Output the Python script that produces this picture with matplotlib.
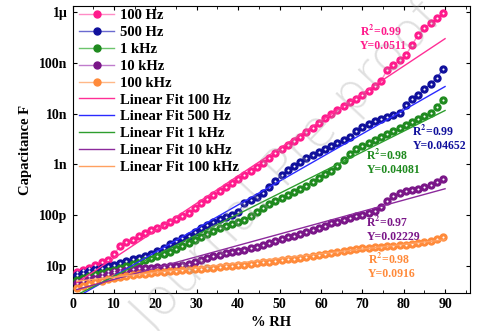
import numpy as np
import matplotlib
matplotlib.use("Agg")
import matplotlib.pyplot as plt
from matplotlib.ticker import FixedLocator, MultipleLocator

plt.rcParams['font.family'] = ['Liberation Serif', 'DejaVu Serif']
plt.rcParams['font.weight'] = 'bold'
plt.rcParams['axes.labelweight'] = 'bold'
plt.rcParams['mathtext.fontset'] = 'stix'

# relative humidity (%) of the measured points
rh = np.arange(1, 91, 1.5)

# log10 of capacitance (F)
logC_100hz = [-11.12, -11.08, -11.04, -10.98, -10.92, -10.88, -10.76, -10.61, -10.53, -10.49,
              -10.41, -10.35, -10.29, -10.25, -10.19, -10.13, -10.08, -10.02, -9.96, -9.86,
              -9.76, -9.68, -9.60, -9.52, -9.45, -9.37, -9.29, -9.21, -9.13, -9.05,
              -8.97, -8.87, -8.78, -8.70, -8.62, -8.54, -8.46, -8.36, -8.28, -8.19,
              -8.09, -8.01, -7.93, -7.85, -7.77, -7.71, -7.63, -7.55, -7.46, -7.36,
              -7.14, -7.04, -6.95, -6.85, -6.65, -6.45, -6.32, -6.22, -6.12, -6.02]
logC_500hz = [-11.18, -11.14, -11.10, -11.06, -11.04, -11.00, -10.98, -10.94, -10.90, -10.86,
              -10.84, -10.80, -10.76, -10.70, -10.65, -10.57, -10.51, -10.45, -10.41, -10.33,
              -10.25, -10.19, -10.13, -10.07, -10.04, -10.00, -9.94, -9.76, -9.70, -9.64,
              -9.56, -9.44, -9.33, -9.21, -9.11, -9.03, -8.95, -8.87, -8.81, -8.76,
              -8.70, -8.64, -8.58, -8.52, -8.46, -8.34, -8.26, -8.20, -8.15, -8.11,
              -8.07, -8.03, -7.99, -7.83, -7.71, -7.63, -7.52, -7.42, -7.30, -7.12]
logC_1khz = [-11.28, -11.24, -11.20, -11.16, -11.14, -11.10, -11.08, -11.04, -11.00, -10.96,
             -10.92, -10.88, -10.84, -10.80, -10.76, -10.72, -10.67, -10.61, -10.55, -10.49,
             -10.43, -10.37, -10.31, -10.25, -10.21, -10.17, -10.13, -10.09, -10.02, -9.94,
             -9.86, -9.78, -9.72, -9.66, -9.60, -9.54, -9.48, -9.43, -9.35, -9.27,
             -9.19, -9.13, -9.03, -8.91, -8.80, -8.70, -8.64, -8.58, -8.52, -8.46,
             -8.40, -8.34, -8.28, -8.22, -8.17, -8.11, -8.05, -7.99, -7.87, -7.73]
logC_10khz = [-11.33, -11.30, -11.26, -11.24, -11.20, -11.16, -11.12, -11.10, -11.08, -11.06,
              -11.04, -11.04, -11.04, -11.02, -11.02, -11.00, -11.00, -10.98, -10.96, -10.92,
              -10.88, -10.84, -10.80, -10.78, -10.74, -10.72, -10.70, -10.69, -10.65, -10.63,
              -10.59, -10.55, -10.51, -10.47, -10.43, -10.41, -10.37, -10.33, -10.29, -10.25,
              -10.21, -10.15, -10.13, -10.09, -10.06, -10.02, -10.00, -9.96, -9.92, -9.84,
              -9.72, -9.62, -9.56, -9.52, -9.50, -9.48, -9.44, -9.41, -9.35, -9.29]
logC_100khz = [-11.43, -11.39, -11.35, -11.31, -11.30, -11.26, -11.24, -11.22, -11.20, -11.18,
               -11.16, -11.16, -11.14, -11.12, -11.12, -11.10, -11.10, -11.08, -11.08, -11.06,
               -11.06, -11.04, -11.04, -11.02, -11.00, -11.00, -10.98, -10.98, -10.96, -10.94,
               -10.92, -10.92, -10.90, -10.88, -10.86, -10.86, -10.84, -10.82, -10.80, -10.78,
               -10.76, -10.74, -10.72, -10.70, -10.69, -10.67, -10.65, -10.65, -10.63, -10.63,
               -10.61, -10.61, -10.59, -10.59, -10.57, -10.55, -10.53, -10.51, -10.47, -10.43]

labels = ['100 Hz', '500 Hz', '1 kHz', '10 kHz', '100 kHz']
series = [logC_100hz, logC_500hz, logC_1khz, logC_10khz, logC_100khz]
colors = ['#ff1a8c', '#10109c', '#1f8a1f', '#7a1688', '#ff8a3a']
line_colors = ['#ff8cc6', '#6a6ad0', '#6cc46c', '#c07ccc', '#ffb888']
fit_colors = ['#ff2f96', '#2a2aff', '#2e9e2e', '#8c2a9c', '#ffa060']

# linear fits (log10 C = a + b * RH) as they appear on the chart
fit_a = [-11.384, -11.66, -11.61, -11.486, -11.31]
fit_b = [0.054, 0.0466, 0.0408, 0.0223, 0.0092]
r2_text = ['0.99', '0.99', '0.98', '0.97', '0.98']
slope_text = ['0.0511', '0.04652', '0.04081', '0.02229', '0.0916']

fig = plt.figure(figsize=(4.78, 3.31), dpi=100)
ax = fig.add_axes([0.152, 0.115, 0.831, 0.867])

for lab, logc, c, lc in zip(labels, series, colors, line_colors):
    cap = 10 ** np.array(logc)
    ax.plot(rh, cap, color=lc, lw=1, marker='o', ms=5, mfc=c, mec=c, label=lab, zorder=3)
    ax.plot(rh, cap, ls='none', marker='o', ms=1.5, mfc='white', mec='none', zorder=4)

fit_x = np.array([1.0, 90.0])
for lab, a, b, fc in zip(labels, fit_a, fit_b, fit_colors):
    ax.plot(fit_x, 10 ** (a + b * fit_x), color=fc, lw=1, label='Linear Fit ' + lab, zorder=5)

ax.set_yscale('log')
ax.set_xlim(0, 96)
ax.set_ylim(2.95e-12, 1.32e-6)
ax.xaxis.set_major_locator(MultipleLocator(10))
ax.xaxis.set_minor_locator(MultipleLocator(5))
ax.yaxis.set_major_locator(FixedLocator([1e-11, 1e-10, 1e-9, 1e-8, 1e-7, 1e-6]))
ax.set_yticklabels(['10p', '100p', '1n', '10n', '100n', '1\u00b5'])
ax.yaxis.set_minor_locator(FixedLocator([]))
ax.tick_params(which='both', direction='in', top=True, right=True, labelsize=10)
ax.tick_params(which='major', length=3)
ax.tick_params(which='minor', length=2)
for t in ax.get_xticklabels() + ax.get_yticklabels():
    t.set_fontweight('bold')
ax.set_xlabel('% RH', fontsize=10.5, fontweight='bold', labelpad=4)
ax.set_ylabel('Capacitance F', fontsize=10.5, fontweight='bold', labelpad=5)

ax.legend(loc='upper left', bbox_to_anchor=(0.0, 1.012), frameon=False,
          prop={'size': 10.5, 'weight': 'bold'},
          handlelength=2.4, handletextpad=0.4, labelspacing=0.25, borderaxespad=0.05)

# fit annotations (position in RH, log10 C)
ann_x = [69.4, 82.1, 71, 71, 71.3]
ann_y = [-6.39, -8.36, -8.83, -10.15, -10.88]
for x, y, c, r2, s in zip(ann_x, ann_y, colors, r2_text, slope_text):
    ax.text(x, 10 ** y, 'R$^2$=' + r2, color=c, fontsize=8.5, fontweight='bold', ha='left', va='center')
    ax.text(x, 10 ** (y - 0.28), 'Y=' + s, color=c, fontsize=8.5, fontweight='bold', ha='left', va='center')

fig.text(0.60, 0.50, 'Journal Pre-proof', fontsize=37, family='DejaVu Sans', weight='light',
         color='#9a9a9a', alpha=0.3, rotation=47, ha='center', va='center')

fig.savefig('out.png', dpi=100)
